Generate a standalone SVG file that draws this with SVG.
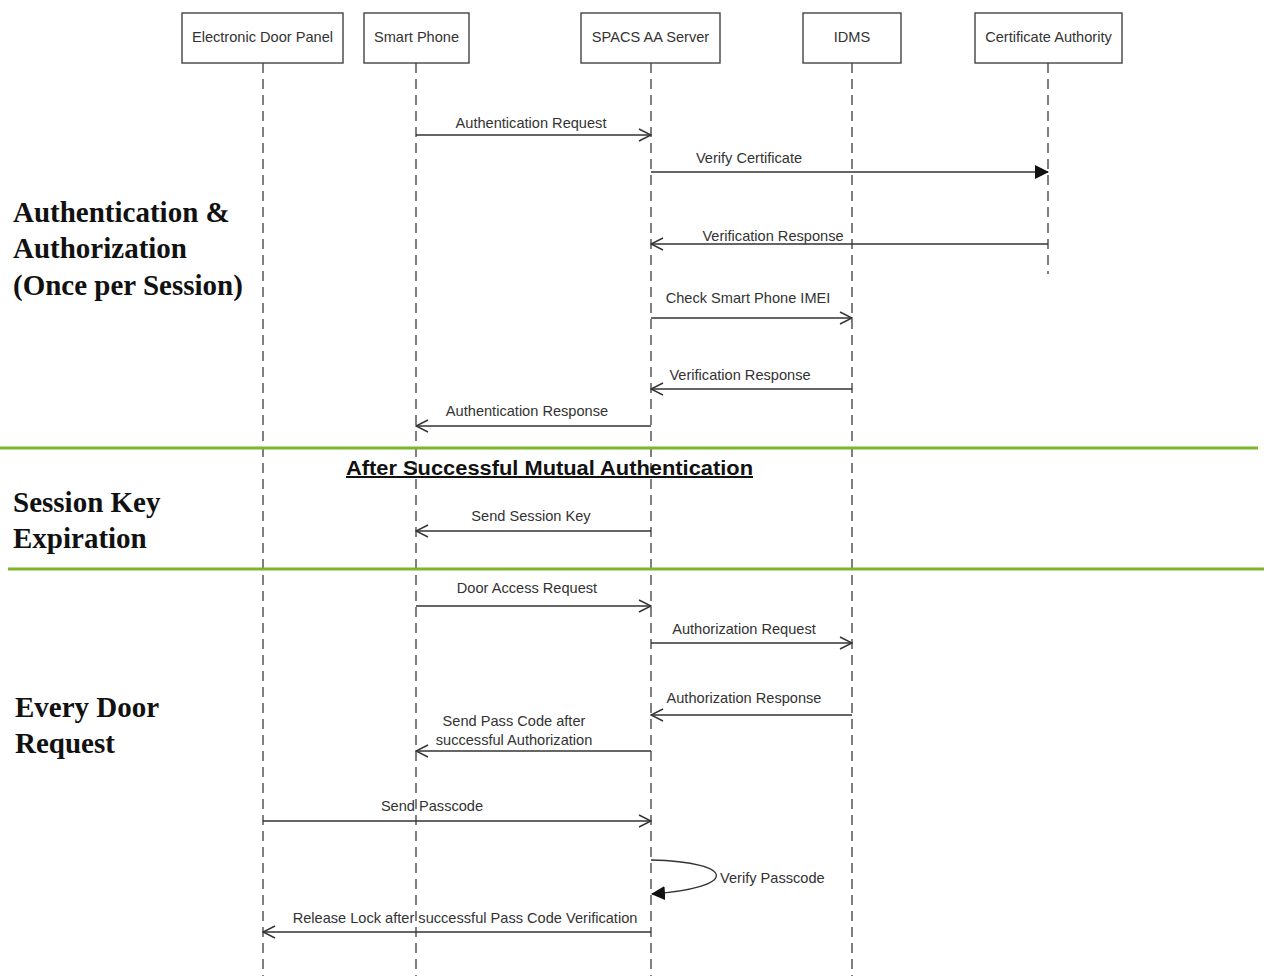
<svg xmlns="http://www.w3.org/2000/svg" width="1267" height="976" viewBox="0 0 1267 976">
  <style>
    .box { fill: #ffffff; stroke: #444444; stroke-width: 1.4; }
    .lbl { font-family: "Liberation Sans", Arial, sans-serif; font-size: 14.6px; fill: #333333; }
    .boxlbl { font-family: "Liberation Sans", Arial, sans-serif; font-size: 14.6px; fill: #333333; text-anchor: middle; }
    .life { stroke: #555555; stroke-width: 1.5; stroke-dasharray: 10 6; fill: none; }
    .msg { stroke: #333333; stroke-width: 1.3; fill: none; }
    .open { marker-end: url(#openArrow); }
    .filled { marker-end: url(#filledArrow); }
    .phase { font-family: "Liberation Serif", "Times New Roman", serif; font-size: 29px; font-weight: bold; fill: #111111; }
    .band { stroke: #7db52b; stroke-width: 3; }
  </style>
  <defs>
    <marker id="openArrow" viewBox="0 0 14 14" refX="13" refY="7" markerWidth="14" markerHeight="14" markerUnits="userSpaceOnUse" orient="auto">
      <path d="M1,1 L13,7 L1,13" fill="none" stroke="#333333" stroke-width="1.4"/>
    </marker>
    <marker id="filledArrow" viewBox="0 0 14 14" refX="13" refY="7" markerWidth="14" markerHeight="14" markerUnits="userSpaceOnUse" orient="auto">
      <path d="M0,0 L14,7 L0,14 Z" fill="#111111"/>
    </marker>
  </defs>

  <rect width="1267" height="976" fill="#ffffff"/>

  <!-- lifelines -->
  <g id="lifelines">
    <line class="life" x1="263" y1="63" x2="263" y2="976"/>
    <line class="life" x1="416" y1="63" x2="416" y2="976"/>
    <line class="life" x1="651" y1="63" x2="651" y2="976"/>
    <line class="life" x1="852" y1="63" x2="852" y2="976"/>
    <line class="life" x1="1048" y1="63" x2="1048" y2="274"/>
  </g>

  <!-- participants -->
  <g id="door-panel">
    <rect class="box" x="182" y="13" width="161" height="50"/>
    <text class="boxlbl" x="262.5" y="42">Electronic Door Panel</text>
  </g>
  <g id="smart-phone">
    <rect class="box" x="364" y="13" width="105" height="50"/>
    <text class="boxlbl" x="416.5" y="42">Smart Phone</text>
  </g>
  <g id="spacs-server">
    <rect class="box" x="581" y="13" width="139" height="50"/>
    <text class="boxlbl" x="650.5" y="42">SPACS AA Server</text>
  </g>
  <g id="idms">
    <rect class="box" x="803" y="13" width="98" height="50"/>
    <text class="boxlbl" x="852" y="42">IDMS</text>
  </g>
  <g id="cert-authority">
    <rect class="box" x="975" y="13" width="147" height="50"/>
    <text class="boxlbl" x="1048.5" y="42">Certificate Authority</text>
  </g>

  <!-- phase separators -->
  <g id="separators">
    <line class="band" x1="0" y1="448" x2="1258" y2="448"/>
    <line class="band" x1="8" y1="569" x2="1264" y2="569"/>
  </g>

  <!-- phase titles -->
  <g id="phase-titles">
    <text class="phase" x="13" y="222">Authentication &amp;</text>
    <text class="phase" x="13" y="258">Authorization</text>
    <text class="phase" x="13" y="295">(Once per Session)</text>
    <text class="phase" x="13" y="512">Session Key</text>
    <text class="phase" x="13" y="548">Expiration</text>
    <text class="phase" x="15" y="717">Every Door</text>
    <text class="phase" x="15" y="753">Request</text>
    <text x="549.5" y="475" text-anchor="middle" font-family="Liberation Sans, Arial, sans-serif" font-size="20" font-weight="bold" fill="#111111" text-decoration="underline" textLength="407" lengthAdjust="spacingAndGlyphs">After Successful Mutual Authentication</text>
  </g>

  <!-- messages -->
  <g id="connectors">
    <line class="msg open" x1="416" y1="135" x2="651" y2="135"/>
    <text class="lbl" x="531" y="128" text-anchor="middle">Authentication Request</text>

    <line class="msg filled" x1="651" y1="172" x2="1048" y2="172"/>
    <text class="lbl" x="749" y="163" text-anchor="middle">Verify Certificate</text>

    <line class="msg open" x1="1048" y1="244" x2="651" y2="244"/>
    <text class="lbl" x="773" y="241" text-anchor="middle">Verification Response</text>

    <line class="msg open" x1="651" y1="318" x2="852" y2="318"/>
    <text class="lbl" x="748" y="303" text-anchor="middle">Check Smart Phone IMEI</text>

    <line class="msg open" x1="852" y1="389" x2="651" y2="389"/>
    <text class="lbl" x="740" y="380" text-anchor="middle">Verification Response</text>

    <line class="msg open" x1="651" y1="426" x2="416" y2="426"/>
    <text class="lbl" x="527" y="416" text-anchor="middle">Authentication Response</text>

    <line class="msg open" x1="651" y1="531" x2="416" y2="531"/>
    <text class="lbl" x="531" y="521" text-anchor="middle">Send Session Key</text>

    <line class="msg open" x1="416" y1="606" x2="651" y2="606"/>
    <text class="lbl" x="527" y="593" text-anchor="middle">Door Access Request</text>

    <line class="msg open" x1="651" y1="643" x2="852" y2="643"/>
    <text class="lbl" x="744" y="634" text-anchor="middle">Authorization Request</text>

    <line class="msg open" x1="852" y1="715" x2="651" y2="715"/>
    <text class="lbl" x="744" y="703" text-anchor="middle">Authorization Response</text>

    <line class="msg open" x1="651" y1="751" x2="416" y2="751"/>
    <text class="lbl" x="514" y="726" text-anchor="middle">Send Pass Code after</text>
    <text class="lbl" x="514" y="745" text-anchor="middle">successful Authorization</text>

    <line class="msg open" x1="263" y1="821" x2="651" y2="821"/>
    <text class="lbl" x="432" y="811" text-anchor="middle">Send Passcode</text>

    <path class="msg filled" d="M651,860 C738,862 738,888 652,894"/>
    <text class="lbl" x="720" y="883">Verify Passcode</text>

    <line class="msg open" x1="651" y1="932" x2="263" y2="932"/>
    <text class="lbl" x="465" y="923" text-anchor="middle">Release Lock after successful Pass Code Verification</text>
  </g>
</svg>
